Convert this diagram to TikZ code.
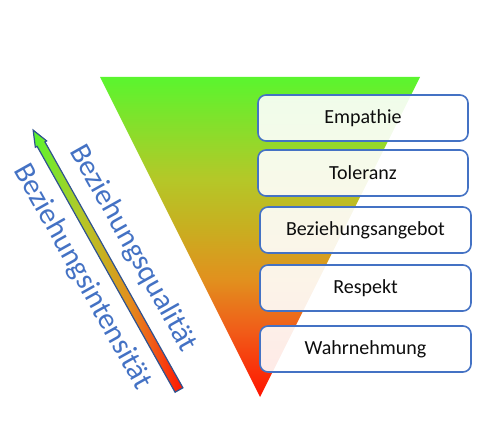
\documentclass[tikz,border=0pt]{standalone}
\usepackage{fontspec}
\setmainfont{Carlito}
\definecolor{grn}{RGB}{90,245,46}
\definecolor{c1}{RGB}{180,200,40}
\definecolor{c2}{RGB}{200,175,32}
\definecolor{c3}{RGB}{225,145,30}
\definecolor{c4}{RGB}{240,95,25}
\definecolor{rd}{RGB}{255,20,0}
\definecolor{boxblue}{RGB}{68,114,196}
\definecolor{arrowblue}{RGB}{47,82,143}
\definecolor{txt}{RGB}{13,13,13}
\pgfdeclareverticalshading{tri}{100bp}{color(0bp)=(rd); color(25bp)=(rd); color(35.75bp)=(c4); color(43.5bp)=(c3); color(51.5bp)=(c2); color(59.2bp)=(c1); color(75bp)=(grn); color(100bp)=(grn)}
\tikzset{
  stage/.style={draw=boxblue, line width=1.6pt, rounded corners=8pt, fill=white, fill opacity=0.9, text opacity=1, minimum width=210pt, minimum height=46pt, inner sep=0pt, text=txt, font=\fontsize{20}{24}\selectfont},
  sidetext/.style={rotate=-60.7, text=boxblue, font=\fontsize{30}{36}\selectfont, inner sep=0pt}
}
\begin{document}
\begin{tikzpicture}[x=1pt,y=1pt]
\useasboundingbox (0,0) rectangle (492,431);
% triangle
\shade[shading=tri] (100,354) -- (420,354) -- (260,34) -- cycle;
% arrow
\begin{scope}[shift={(179,41)}, rotate=119.3]
  \shade[shading=tri, shading angle=90, draw=arrowblue, line width=1.2pt, line join=miter]
    (0,-4.5) -- (282,-4.5) -- (282,-6.5) -- (298,0) -- (282,6.5) -- (282,4.5) -- (0,4.5) -- cycle;
  \coordinate (qpos) at (146,-29);
  \coordinate (ipos) at (146,29);
\end{scope}
\node[sidetext] (qual) at (qpos) {Beziehungsqualität};
\node[sidetext] (inten) at (ipos) {Beziehungsintensität};
% boxes
\node[stage, minimum width=210pt] (emp) at (363,313) {Empathie};
\node[stage, minimum width=210pt] (tol) at (363,258) {Toleranz};
\node[stage, minimum width=211pt] (bez) at (365.5,201) {Beziehungsangebot};
\node[stage, minimum width=211pt] (res) at (365.5,143) {Respekt};
\node[stage, minimum width=211pt] (wah) at (365.5,82) {Wahrnehmung};
\end{tikzpicture}
\end{document}
